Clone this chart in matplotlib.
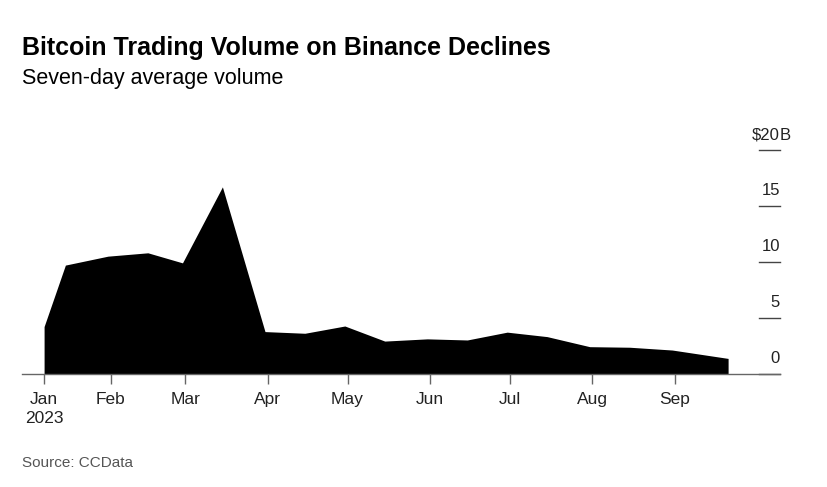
import matplotlib
matplotlib.use('Agg')
import matplotlib.pyplot as plt
import matplotlib.dates as mdates
import matplotlib.transforms as mtransforms
import pandas as pd

plt.rcParams['font.family'] = ['Liberation Sans', 'DejaVu Sans']

# seven-day average volume, $B
dates = pd.to_datetime(['2023-01-07', '2023-01-15', '2023-01-31', '2023-02-15', '2023-02-28',
                        '2023-03-15', '2023-03-31', '2023-04-15', '2023-04-30', '2023-05-15',
                        '2023-05-31', '2023-06-15', '2023-06-30', '2023-07-15', '2023-07-31',
                        '2023-08-15', '2023-08-31', '2023-09-21'])
volume = [4.2, 9.7, 10.5, 10.8, 9.9,
          16.7, 3.75, 3.6, 4.25, 2.9,
          3.1, 3.0, 3.7, 3.3, 2.4,
          2.35, 2.1, 1.35]

month_ticks = pd.to_datetime(['2023-01-07', '2023-02-01', '2023-03-01', '2023-04-01', '2023-05-01',
                              '2023-06-01', '2023-07-01', '2023-08-01', '2023-09-01'])
month_labels = ['Jan\n2023', 'Feb', 'Mar', 'Apr', 'May', 'Jun', 'Jul', 'Aug', 'Sep']
y_ticks = [0, 5, 10, 15, 20]
y_labels = ['0', '5', '10', '15', '$20']

fig = plt.figure(figsize=(8.28, 4.87), dpi=100)
ax = fig.add_axes([22/828, 1 - 373.5/487, 758/828, (373.5 - 150)/487])

ax.fill_between(dates, volume, 0, color='black', linewidth=0)

x0 = mdates.date2num(dates[0])
ax.set_xlim(x0 - 8.3, x0 + 276.5)
ax.set_ylim(0, 20)

for s in ['top', 'left', 'right']:
    ax.spines[s].set_visible(False)
ax.spines['bottom'].set_color('#666666')
ax.spines['bottom'].set_linewidth(1)

ax.set_xticks(month_ticks)
ax.set_xticklabels(month_labels, fontsize=12.5, color='#222222', linespacing=1.35)
ax.tick_params(axis='x', length=7, width=1, color='#666666', pad=6)

# y ticks: short lines at the right end, labels above them
ax.set_yticks([])
trans = mtransforms.blended_transform_factory(ax.transAxes, ax.transData)
for v, lab in zip(y_ticks, y_labels):
    ax.plot([1 - 21/758, 1], [v, v], transform=trans, color='#444444', lw=1, clip_on=False)
    ax.annotate(lab, xy=(1, v), xycoords=trans, xytext=(0, 7.5), textcoords='offset points',
                ha='right', va='baseline', fontsize=12, color='#222222', annotation_clip=False)
ax.annotate('B', xy=(1, 20), xycoords=trans, xytext=(0, 7.5), textcoords='offset points',
            ha='left', va='baseline', fontsize=12, color='#222222', annotation_clip=False)

fig.text(22/828, 1 - 55/487, 'Bitcoin Trading Volume on Binance Declines',
         fontsize=18, fontweight='bold', color='black', ha='left', va='baseline')
fig.text(22/828, 1 - 84/487, 'Seven-day average volume',
         fontsize=15.5, color='black', ha='left', va='baseline')
fig.text(22/828, 1 - 467/487, 'Source: CCData', fontsize=11, color='#555555', ha='left', va='baseline')

fig.savefig('out.png', dpi=100)
